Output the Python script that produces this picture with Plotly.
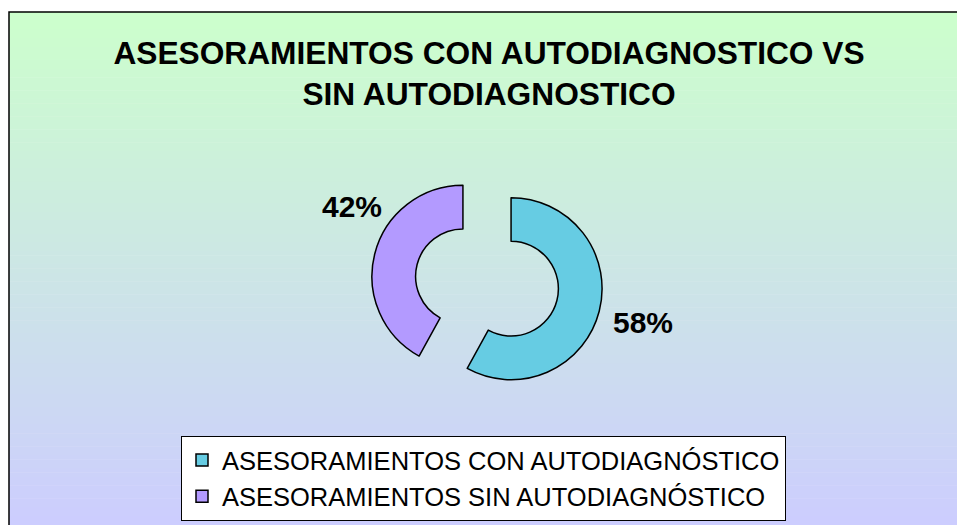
import plotly.graph_objects as go

# ---- data ----
labels = ["ASESORAMIENTOS CON AUTODIAGNÓSTICO", "ASESORAMIENTOS SIN AUTODIAGNÓSTICO"]
values = [58, 42]
slice_colors = ["#66CCE3", "#B39AFF"]
title_text = "ASESORAMIENTOS CON AUTODIAGNOSTICO VS<br>SIN AUTODIAGNOSTICO"

W, H = 957, 525
FONT = "Liberation Sans, Arial"

fig = go.Figure()
cx, cy_top, box = 487, 282.5, 231.7
fig.add_trace(go.Pie(
    labels=labels,
    values=values,
    sort=False,
    direction="clockwise",
    rotation=0,
    hole=0.52,
    pull=[0.273, 0.273],
    marker=dict(colors=slice_colors, line=dict(color="black", width=1.5)),
    textinfo="none",
    domain=dict(x=[(cx - box / 2) / W, (cx + box / 2) / W],
                y=[(H - cy_top - box / 2) / H, (H - cy_top + box / 2) / H]),
))

# background gradient (light green -> lavender) as horizontal bands
shapes = []
top_px, bot_px = 12, 533
N = 120
c0 = (204, 255, 204)
c1 = (204, 204, 255)
for i in range(N):
    t = (i + 0.5) / N
    col = tuple(round(c0[k] + (c1[k] - c0[k]) * t) for k in range(3))
    ya = top_px + (bot_px - top_px) * i / N
    yb = top_px + (bot_px - top_px) * (i + 1) / N + 0.6
    shapes.append(dict(type="rect", xref="paper", yref="paper",
                       x0=9 / W, x1=1.3, y0=1 - yb / H, y1=1 - ya / H,
                       fillcolor="rgb(%d,%d,%d)" % col, line=dict(width=0),
                       layer="below"))
shapes.append(dict(type="rect", xref="paper", yref="paper",
                   x0=9 / W, x1=1.3, y0=-0.3, y1=1 - 12 / H,
                   fillcolor="rgba(0,0,0,0)", line=dict(color="black", width=1.5),
                   layer="below"))

label_pos = [(643, 322), (352, 206)]
annotations = []
for v, (px, py) in zip(values, label_pos):
    annotations.append(dict(text="<b>%d%%</b>" % v, x=px / W, y=1 - py / H,
                            xref="paper", yref="paper", showarrow=False,
                            font=dict(family=FONT, size=30, color="black"),
                            xanchor="center", yanchor="middle"))

fig.update_layout(
    width=W, height=H,
    margin=dict(l=0, r=0, t=0, b=0),
    paper_bgcolor="white",
    plot_bgcolor="rgba(0,0,0,0)",
    title=dict(text="<b>" + title_text + "</b>", x=489 / W, xanchor="center",
               y=1 - 64 / H, yanchor="top",
               font=dict(family=FONT, size=31.7, color="black")),
    shapes=shapes,
    annotations=annotations,
    showlegend=True,
    legend=dict(x=181 / W, xanchor="left", y=1 - 436 / H, yanchor="top",
                bgcolor="white", bordercolor="black", borderwidth=1,
                font=dict(family=FONT, size=25.5, color="black"),
                traceorder="normal"),
)

fig.write_html(
    "out.html",
    config={"displayModeBar": False},
    post_script="document.body.style.margin='0';document.body.style.overflow='hidden';",
)
